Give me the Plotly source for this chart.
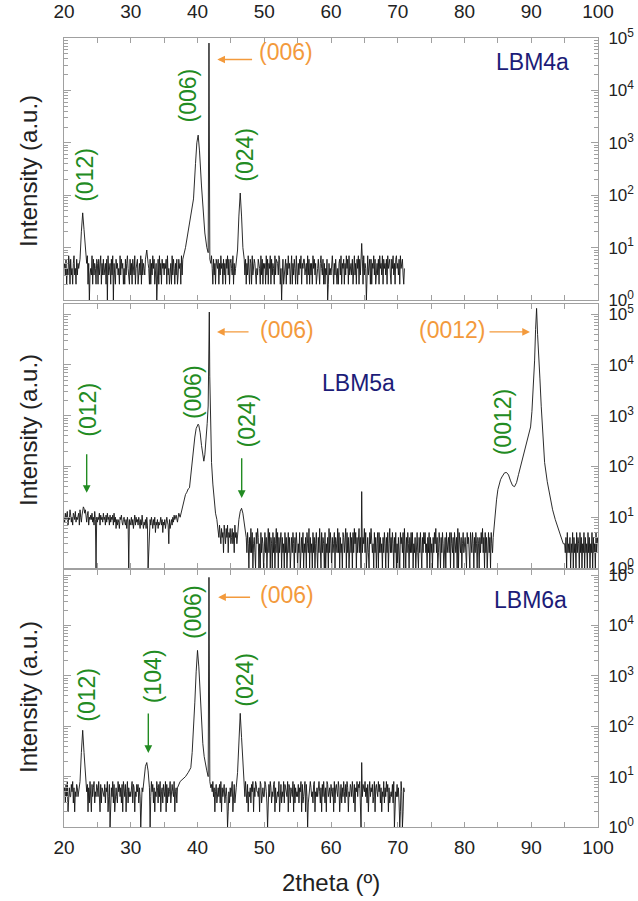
import plotly.graph_objects as go

# ------------------------------------------------------------------ data
STEP = 0.1  # sampling step (deg 2theta) of the typed background strings
# background strings: one character per 0.1 deg, read as base-36 counts (a=10, b=11 ...)

# ---- LBM4a (top panel): background 20.0 .. 71.0
lbm4_bg_start = 20.0
lbm4_bg = ("4536243752 6342573426 3524637245 2645372513 4372635426 5263472536 3452617345 "
           "2637153264 5342736452 4263574326 3526437245 6245372635 4365273426 2537462351 "
           "4627352645 3546273425 5273642536 2364527345 4536214632 3625473546 2473562735 "
           "5364273452 3742635264 4625374526 3526473625 6437253462 2541372537 4362537426 "
           "5273465324 3654273625 4527362547 2635427365 5376241362 3462537452 4725364273 "
           "2536472546 6345273625 3527463524 4632574362 5243612534 3674253642 4256372546 "
           "2537462735 5362473526 4726354627 3541273562 6254736245 3627453726 4536274563 "
           "2647352674 5362745632 4")
lbm4_012_x = [22.2, 22.4, 22.6, 22.8, 23.0, 23.2, 23.4]
lbm4_012_y = [4, 6, 20, 46, 22, 8, 5]
lbm4_bump_x = [32.2, 32.4, 32.6]
lbm4_bump_y = [6, 9, 5]
lbm4_006_x = [37.8, 38.2, 38.6, 39.0, 39.4, 39.7, 39.9, 40.1, 40.3, 40.6, 40.9, 41.1, 41.4, 41.6,
              41.72, 41.85, 42.0]
lbm4_006_y = [6, 10, 20, 40, 85, 400, 1000, 1400, 700, 150, 40, 19, 10, 8,
              80000, 6, 5]
lbm4_024_x = [45.8, 46.0, 46.2, 46.4, 46.6, 46.8, 47.0]
lbm4_024_y = [5, 9, 40, 110, 40, 10, 6]
lbm4_sp_x = [64.6]
lbm4_sp_y = [12]

# ---- LBM5a (middle panel)
lbm5_bg1_start = 20.0   # 20.0 .. 36.5
lbm5_bg1 = ("a8c9bd7a9e b8a7cb9d8a 9bc7ea8bdg fcea8bd7a9 b9c8a7d91a 8a9c7b9a8c "
            "9a7b8c9a7b 8a9b7c8a69 7986a9b879 a8796a8197 8a7968b7a8 97a8697b86 "
            "8796a71269 7a8697a587 96878a7958 7968a87396 897a8b")
lbm5_bg2_start = 43.1   # 43.1 .. 84.3
lbm5_bg2 = ("6475364527 5364725463 4635274536 4444444444 3142531426 2513421536 "
            "4131524312 5241362514 3152413625 1423514231 5241352413 4253142531 "
            "3251342513 2415326142 3152413521 4263152431 5132416253 1423514326 "
            "2514231542 3615241352 4152635142 3624152436 2513421536 4231524135 "
            "1524231425 3142513624 2531425131 4215342516 3142531425 2513241352 "
            "1425314253 5231425142 3142536241 2531425313 4152342515 3241532416 "
            "1532413524 4215342153 2531425314 3142536241 5241352415 324")
lbm5_bg3_start = 95.0   # 95.0 .. 100.0
lbm5_bg3 = "3241523241 3251423152 4315241325 1423152413 2514231524 3"
lbm5_006_x = [36.6, 36.8, 37.0, 37.2, 37.4, 37.6, 37.8, 38.0, 38.2, 38.4, 38.6, 38.8, 39.0, 39.2,
              39.4, 39.6, 39.8, 40.0, 40.1, 40.2, 40.4, 40.6, 40.8, 40.95, 41.1, 41.3, 41.45,
              41.6, 41.7, 41.77, 41.84, 41.95, 42.1, 42.3, 42.5, 42.7, 42.9, 43.0]
lbm5_006_y = [9, 11, 8, 12, 10, 13, 16, 22, 28, 31, 36, 38, 70, 140,
              220, 380, 560, 660, 680, 640, 460, 260, 150, 127, 170, 340, 700,
              1550, 8000, 110000, 6000, 900, 120, 45, 20, 12, 9, 7]
lbm5_024_x = [46.0, 46.2, 46.4, 46.6, 46.8, 47.0, 47.2]
lbm5_024_y = [5, 9, 13, 15, 12, 7, 4]
lbm5_sp_x = [64.6]
lbm5_sp_y = [32]
lbm5_0012_x = [84.4, 84.6, 84.8, 85.0, 85.2, 85.4, 85.6, 85.8, 86.0, 86.3, 86.6, 86.9, 87.2, 87.5,
               87.8, 88.1, 88.4, 88.8, 89.2, 89.6, 89.9, 90.1, 90.3, 90.5, 90.65, 90.8, 90.95,
               91.1, 91.3, 91.5, 91.7, 92.0, 92.4, 92.8, 93.2, 93.6, 94.0, 94.4, 94.8]
lbm5_0012_y = [6, 12, 22, 35, 45, 55, 62, 70, 75, 76, 68, 52, 42, 40,
               48, 70, 100, 158, 240, 380, 600, 1200, 3300, 12000, 50000, 130000, 40000,
               12000, 5300, 1500, 450, 120, 50, 25, 14, 9, 6, 4, 3]

# ---- LBM6a (bottom panel): background 20.0 .. 71.0
lbm6_bg_start = 20.0
lbm6_bg = ("5637482564 4758362547 6473182645 3586472638 5274683547 6485273654 4736582471 "
           "5648372564 3857463728 6472583645 4583762547 5736412635 7462583741 4857362548 "
           "6374825637 5482736458 3675482563 6548312654 4736582473 5864273658 4537286453 "
           "6482573648 3758462573 5647382645 7356412536 4682573648 5374862537 6485372546 "
           "3758264875 5462873564 4875312748 6354782635 5482673548 3765482763 6548273645 "
           "4736582734 5827413578 6453782546 4785362748 5362874563 7546283675 4862573648 "
           "5374862547 6485372658 4768213476 5846372584 6573482675 4857362548 3648572634 "
           "5473812547 4631285126 5")
lbm6_012_x = [22.2, 22.4, 22.6, 22.8, 23.0, 23.2, 23.4]
lbm6_012_y = [5, 8, 30, 83, 30, 9, 5]
lbm6_104_x = [31.8, 32.0, 32.2, 32.4, 32.6, 32.8]
lbm6_104_y = [5, 9, 16, 19, 13, 6]
lbm6_006_x = [37.0, 37.4, 37.8, 38.2, 38.6, 39.0, 39.2, 39.4, 39.6, 39.8, 40.0, 40.2, 40.4, 40.6,
              40.8, 41.0, 41.2, 41.4, 41.6, 41.72, 41.85, 42.0]
lbm6_006_y = [6, 8, 9, 10, 12, 15, 30, 80, 300, 1200, 3200, 1500, 450, 120,
              45, 25, 16, 13, 10, 90000, 8, 6]
lbm6_024_x = [45.8, 46.0, 46.2, 46.4, 46.6, 46.8, 47.0]
lbm6_024_y = [6, 12, 60, 180, 60, 16, 7]
lbm6_sp_x = [64.6]
lbm6_sp_y = [19]

x_ticks = [20, 30, 40, 50, 60, 70, 80, 90, 100]
x_minor = [25, 35, 45, 55, 65, 75, 85, 95]
y_ticks = [1, 10, 100, 1000, 10000, 100000]
y_labels = ["10<sup>0</sup>", "10<sup>1</sup>", "10<sup>2</sup>", "10<sup>3</sup>",
            "10<sup>4</sup>", "10<sup>5</sup>"]
y_minor = [m * d for d in [1, 10, 100, 1000, 10000, 100000] for m in range(2, 10)]


# ------------------------------------------------------------------ helpers
def counts(s):
    return [int(c, 36) for c in s if c.isalnum()]


def build(bg_segments, peak_segments):
    ranges = [(min(px) - 1e-6, max(px) + 1e-6) for px, _ in peak_segments]
    pts = []
    for start, vals in bg_segments:
        for i, v in enumerate(counts(vals)):
            x = round(start + STEP * i, 3)
            if any(lo <= x <= hi for lo, hi in ranges):
                continue
            pts.append((x, v))
    for px, py in peak_segments:
        pts.extend(zip(px, py))
    pts.sort()
    return [p[0] for p in pts], [p[1] for p in pts]


x4, y4 = build([(lbm4_bg_start, lbm4_bg)],
               [(lbm4_012_x, lbm4_012_y), (lbm4_bump_x, lbm4_bump_y), (lbm4_006_x, lbm4_006_y),
                (lbm4_024_x, lbm4_024_y), (lbm4_sp_x, lbm4_sp_y)])
x5, y5 = build([(lbm5_bg1_start, lbm5_bg1), (lbm5_bg2_start, lbm5_bg2), (lbm5_bg3_start, lbm5_bg3)],
               [(lbm5_006_x, lbm5_006_y), (lbm5_024_x, lbm5_024_y), (lbm5_sp_x, lbm5_sp_y),
                (lbm5_0012_x, lbm5_0012_y)])
x6, y6 = build([(lbm6_bg_start, lbm6_bg)],
               [(lbm6_012_x, lbm6_012_y), (lbm6_104_x, lbm6_104_y), (lbm6_006_x, lbm6_006_y),
                (lbm6_024_x, lbm6_024_y), (lbm6_sp_x, lbm6_sp_y)])

# ------------------------------------------------------------------ figure
FONT = "Liberation Sans, Arial, sans-serif"
GRAY = "#a0a0a0"
GREEN = "#228b22"
ORANGE = "#f39a3c"
NAVY = "#1c1c78"
LINE = "#141414"

fig = go.Figure()
for xs, ys, ax in [(x4, y4, ""), (x5, y5, "2"), (x6, y6, "3")]:
    fig.add_trace(go.Scatter(x=xs, y=ys, mode="lines", xaxis="x" + ax, yaxis="y" + ax,
                             line=dict(color=LINE, width=0.9), showlegend=False,
                             hoverinfo="skip"))


def xaxis(anchor, side, labels, standoff):
    return dict(anchor=anchor, domain=[0, 1], range=[20, 100], side=side,
                showline=True, linecolor=GRAY, linewidth=1, mirror="ticks",
                ticks="inside", ticklen=5, tickcolor=GRAY, tickmode="array",
                tickvals=x_ticks, ticktext=[str(v) for v in x_ticks],
                showticklabels=labels, tickfont=dict(family=FONT, size=19, color="#222"),
                ticklabelstandoff=standoff, automargin=False,
                minor=dict(tickmode="array", tickvals=x_minor, ticks="inside", ticklen=5,
                           tickcolor=GRAY, showgrid=False),
                showgrid=False, zeroline=False, fixedrange=True)


def yaxis(anchor, domain, top):
    return dict(anchor=anchor, domain=domain, type="log", range=[0, top], side="right",
                showline=True, linecolor=GRAY, linewidth=1, mirror="ticks",
                ticks="inside", ticklen=7, tickcolor=GRAY, tickmode="array",
                tickvals=y_ticks, ticktext=y_labels,
                tickfont=dict(family=FONT, size=17, color="#222"), ticklabelstandoff=6,
                automargin=False,
                minor=dict(tickmode="array", tickvals=y_minor, ticks="inside", ticklen=4,
                           tickcolor=GRAY, showgrid=False),
                showgrid=False, zeroline=False, fixedrange=True)


H = 789.0


def frac(py):
    return (827 - py) / H


fig.update_layout(
    width=638, height=901, margin=dict(l=64, r=40, t=38, b=74),
    paper_bgcolor="white", plot_bgcolor="white",
    font=dict(family=FONT, color="#222"),
    xaxis=xaxis("y", "top", True, 11),
    xaxis2=xaxis("y2", "bottom", False, 3),
    xaxis3=xaxis("y3", "bottom", True, 3),
    yaxis=yaxis("x", [frac(300), 1.0], 5.0),
    yaxis2=yaxis("x2", [frac(568), frac(304)], 5.2),
    yaxis3=yaxis("x3", [0.0, frac(570)], 5.1),
)

ann = []


def txt(x, y, text, color, ax="", angle=0, size=23):
    ann.append(dict(x=x, y=y, xref="x" + ax, yref="y" + ax, text=text, showarrow=False,
                    textangle=angle, font=dict(family=FONT, size=size, color=color),
                    xanchor="center", yanchor="middle"))


def arrow(x_head, y_head, x_tail, y_tail, color, ax=""):
    ann.append(dict(x=x_head, y=y_head, ax=x_tail, ay=y_tail, xref="x" + ax, yref="y" + ax,
                    axref="x" + ax, ayref="y" + ax, text="", showarrow=True,
                    arrowhead=2, arrowsize=1.1, arrowwidth=1.4, arrowcolor=color))


# top panel
txt(23.15, 2.39, "(012)", GREEN, "", -90)
txt(38.63, 3.91, "(006)", GREEN, "", -90)
txt(47.1, 2.77, "(024)", GREEN, "", -90)
txt(53.2, 4.74, "(006)", ORANGE, "")
arrow(42.97, 4.59, 48.4, 4.59, ORANGE, "")
txt(90.25, 4.54, "LBM4a", NAVY, "")

# middle panel
txt(23.6, 3.12, "(012)", GREEN, "2", -90)
arrow(23.4, 1.48, 23.4, 2.27, GREEN, "2")
txt(39.37, 3.47, "(006)", GREEN, "2", -90)
txt(47.37, 2.90, "(024)", GREEN, "2", -90)
arrow(46.62, 1.38, 46.62, 2.19, GREEN, "2")
txt(53.45, 4.69, "(006)", ORANGE, "2")
arrow(42.92, 4.65, 47.87, 4.65, ORANGE, "2")
txt(78.08, 4.69, "(0012)", ORANGE, "2")
arrow(89.81, 4.65, 83.52, 4.65, ORANGE, "2")
txt(85.77, 2.87, "(0012)", GREEN, "2", -90)
txt(64.05, 3.64, "LBM5a", NAVY, "2")

# bottom panel
txt(23.4, 2.62, "(012)", GREEN, "3", -90)
txt(33.38, 3.0, "(104)", GREEN, "3", -90)
arrow(32.63, 1.47, 32.63, 2.28, GREEN, "3")
txt(39.37, 4.27, "(006)", GREEN, "3", -90)
txt(47.1, 2.92, "(024)", GREEN, "3", -90)
txt(53.4, 4.6, "(006)", ORANGE, "3")
arrow(43.1, 4.56, 48.1, 4.56, ORANGE, "3")
txt(89.9, 4.5, "LBM6a", NAVY, "3")

# axis titles
for yc in [171, 430, 697]:
    ann.append(dict(x=(28 - 64) / 534.0, y=frac(yc), xref="paper", yref="paper",
                    text="Intensity (a.u.)", showarrow=False, textangle=-90,
                    font=dict(family=FONT, size=24, color="#222"),
                    xanchor="center", yanchor="middle"))
ann.append(dict(x=0.5, y=frac(882), xref="paper", yref="paper", text="2theta (º)",
                showarrow=False, font=dict(family=FONT, size=24, color="#222"),
                xanchor="center", yanchor="middle"))

fig.update_layout(annotations=ann)
fig.write_html("out.html")
